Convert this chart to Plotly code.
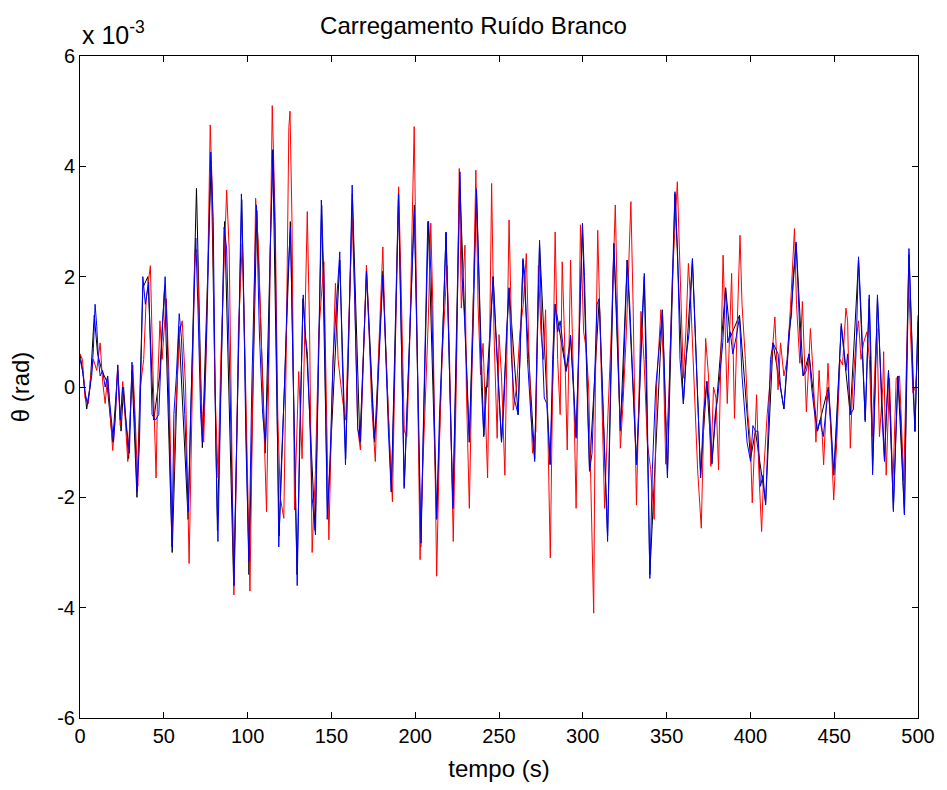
import plotly.graph_objects as go

# values in units of 1e-3 rad
red_t = [0,1.5,3,5,6,8,10,12,13.5,15,16.5,18,19.5,21,22.5,24,25.5,27,28.5,30,31.5,33,34.5,36,38,39.5,
 42,43.5,45.4,46.5,47.7,49,51.5,53,55,57,59.5,61,63,65.1,67,68.5,70,72,73.8,75.5,77.7,79,80.5,82.4,
 84,85.5,87.5,89,90.5,91.8,93,94.5,96.8,98.5,101.4,103,104.8,106.5,108.5,111.3,112.5,114.7,116.5,118,119.5,121.6,123,124.6,
 125.3,126.5,128,129.5,130.5,132.5,134,135.6,137,138.5,140.5,142.5,145.5,147,148.5,150.5,152.4,154,156.5,158.5,160.5,162.4,164,165.7,
 167.3,168.5,170.9,172.5,174,176.2,178,180.7,182,184,186.4,188,190.1,191.5,193.5,195,196.5,199.4,201,202.9,204.5,206,207.8,
 209.3,210.5,212.8,214.5,216,219,220.5,222.7,224.5,226.3,227.5,229.7,230.5,232.3,234,236.2,237.5,239,240.5,243.2,244.5,245.6,247,248.9,
 250,251.5,253.5,255,256,257.5,258.5,260.5,262.5,264.5,266.3,268,270,272,273.5,275,276.5,277.8,279,280.6,282,283.5,285,286.5,287.7,289,290.7,
 292.7,294.5,296,297.5,298.6,300.5,302,303.5,305,306.5,307.5,308.9,310,311.5,313,315,317,319.4,320.5,322.4,324,326,328.7,330,332,
 333,334.7,336.5,338.5,340.5,342.6,344,346.6,348,349.5,351.5,353.5,356.4,358,360,361.5,363,364.5,366.5,368.5,370.7,372,373.3,
 375,376.4,378,379.5,381,382.5,383.7,385,386.2,388.8,390.5,392,393.8,395,397,398.5,400,401.1,402.5,403.7,405,406.7,408,410,412,414.6,
 416.5,418,420,422,424,426.3,427.5,429.5,431,433.4,435.8,437.5,439.1,441,443.7,446.3,448,449.7,451.5,453.5,455,457,
 458,459.6,461,463,464.5,466,467.5,469.5,471,472.6,474.5,475.5,477,479,479.5,481,483,485,487,489,491.5,493,494.3,495.5,497,498.5,500]
red_v = [0.6,0.5,-0.2,-0.3,0.1,0.5,0.3,0.8,0.1,-0.3,0.2,-0.4,-1.15,-0.6,0.4,-0.7,0.1,-0.6,-1.35,-0.5,0.4,-0.6,-1.8,0.0,0.5,1.6,
 2.2,0.3,-1.65,0.2,1.2,0.5,1.6,0.3,-2.6,-0.5,1.0,1.2,0.0,-3.2,0.0,2.4,2.5,0.0,-1.0,0.8,4.75,3.5,0.0,-1.65,
 0.5,2.0,3.57,2.5,-1.0,-3.77,-2.0,1.0,2.6,0.5,-3.7,0.0,3.42,2.5,0.5,-2.26,0.0,5.1,3.0,-0.5,-2.0,-2.38,0.5,4.7,
 5.0,3.0,-2.23,-0.5,0.28,-1.3,1.0,3.18,1.0,-3.0,-1.5,1.0,2.27,0.0,-2.77,0.0,1.88,0.5,-0.2,-0.6,1.5,3.06,1.5,-0.75,
 -1.14,0.0,2.21,1.0,-0.3,-1.35,0.5,2.54,1.0,-0.5,-2.08,0.5,3.63,2.0,-0.8,-0.9,0.5,4.72,1.0,-3.13,-1.5,-0.2,1.2,
 2.97,1.5,-3.43,-1.0,0.5,2.2,0.5,-2.8,0.0,3.96,1.43,2.57,0.0,-2.2,0.5,3.93,1.5,0.22,0.79,-1.65,1.0,3.69,1.0,-0.93,
 0.95,0.2,-1.6,1.5,3.03,1.0,-0.42,0.0,1.0,1.5,2.42,0.5,-1.2,-0.8,2.2,1.0,0.5,1.4,-0.5,-3.1,0.0,2.81,0.5,-0.5,2.27,1.0,-1.14,
 2.3,0.0,-2.2,0.5,2.94,1.0,0.7,0.0,-2.0,-4.1,0.0,2.84,1.5,-0.6,-2.2,-0.5,1.0,3.3,1.5,-1.11,-0.3,1.0,3.36,1.5,-2.14,
 -1.0,1.37,0.5,-1.0,-1.5,-2.4,0.0,1.4,0.5,-1.4,0.0,2.0,3.72,2.0,0.16,1.0,2.24,1.5,0.0,-1.5,-2.56,-0.5,0.88,
 0.2,-1.44,0.0,-0.2,-1.5,0.5,2.39,1.0,-0.3,2.06,-0.57,1.0,2.75,1.5,0.5,-0.5,-1.0,-2.1,-1.0,-0.14,-1.5,-2.62,-1.5,-0.5,0.2,1.27,
 -0.05,0.8,0.2,0.5,1.5,2.87,1.5,0.43,1.55,-0.45,1.06,0.2,-1.0,0.3,-1.41,0.43,-0.8,-2.05,-1.0,0.5,0.4,1.43,
 1.2,-1.11,0.0,0.8,1.2,0.5,0.8,1.0,0.5,-0.9,0.5,1.06,-0.9,0.0,0.64,-1.6,0.16,-1.8,0.16,0.2,-1.7,0.5,2.03,1.0,-0.1,0.0,0.7]

blue_t = [0,1.5,3,4.5,5.5,7,8,9,10,11,12,13.5,15,16.5,17.5,19,20,21.5,22.5,24,25.5,27,29.5,31,32.5,34,35.5,37.5,39,
 41,43,45,47,49,50.8,52,53.5,54.9,56,57.5,59.2,60.5,62.5,64.6,66,67.5,69.1,70.5,72,73,74.5,76,78,79.5,81,82.3,
 84,86,87.5,89.5,91.9,93.5,95,96.3,97.5,99,100.8,102.5,104.5,105.3,107,109,110.7,112.5,113.5,115.2,116.5,118.6,120,122,124,
 125.6,127,129.6,131,133.2,134.5,135.6,137,138.5,140.5,142,144,145.5,147.5,149,151,153,155,156.5,158.4,160,162.4,164,165.7,
 167.3,168.5,170.9,172.5,174,175.5,177,178.5,180.7,182,184,185.7,187.5,190.1,191.5,193.4,195,197,199.5,201,203.5,205,207.5,
 208,209.5,211,212.8,214.5,216.5,218.4,219.5,221,222.5,224.5,226.7,228,229.5,231,232.3,234.5,236.6,238,239.5,240.9,242,243.2,245,246.5,248,249.5,
 251.5,253,254.5,256,257.5,259,261.4,263,264.3,265.5,267,269,271.3,272.5,274.2,275.5,277,278.5,280.5,282,283.5,285,286.5,288,290,
 291.5,292.7,294.5,296,297.5,299.8,301,302.5,304,305.5,307,308.5,309.8,311.5,313,314.8,316.5,318.5,320,322.4,324,325.5,326.5,328,330,332,
 333.5,335,336.7,338,340,341.5,343.5,345,347.5,349,350.5,352,353.5,355,356.5,358,360,361.5,363.5,365.4,366.5,368.5,370.3,372,374,
 375.5,377,379,380.5,382,383.5,385.2,386.5,388,389.5,391.5,393.5,395,396.5,398,400.1,401.5,403,404.5,406,407.5,409.1,410.5,412,413.5,415,
 416.5,418,420,421.5,423,424.5,425.5,427.3,428.5,430,431.5,433.5,435,436.5,438,440,441.5,443.5,444.5,446.5,448,449.7,451,452.5,454.2,455.5,457,
 458,459.6,461.5,463,464.5,466,468.5,469.5,470.9,472,472.9,474.5,475.8,477,478.5,480,481,482.4,483.5,485.3,486.5,488,489.5,491.9,493,494.6,496,497,498.2,499.3,500]
blue_v = [0.5,0.3,-0.1,-0.3,-0.1,0.2,0.7,1.5,1.1,0.5,0.2,0.3,0.0,0.2,-0.2,-0.75,-1.0,-0.3,0.4,-0.6,0.0,-0.5,-1.2,0.45,-0.5,-1.9,-1.0,2.0,1.5,
 1.9,-0.5,-0.6,-0.5,1.0,2.0,1.0,-1.0,-2.9,-0.5,0.2,1.33,0.9,-0.5,-2.26,-0.5,1.0,2.7,1.3,-0.5,-1.0,0.0,1.5,4.26,3.0,-1.0,-2.8,
 0.0,2.9,2.5,0.0,-3.6,-1.0,1.5,3.5,2.0,-1.0,-3.16,0.0,2.5,3.3,1.0,-0.5,-1.05,0.5,2.5,4.3,2.5,-2.9,-1.5,0.0,2.0,
 2.9,0.5,-3.6,-1.0,1.67,0.9,0.64,-0.5,-2.0,-2.68,0.0,3.39,2.0,-2.4,-1.5,0.5,1.5,2.45,0.5,-1.41,0.5,3.66,1.5,-0.75,
 -1.0,0.0,2.1,1.0,0.0,-0.93,-0.5,0.5,2.03,1.0,-0.8,-1.9,0.0,3.5,1.0,-1.84,-0.5,1.0,3.21,1.0,-2.83,-0.5,3.0,
 3.0,2.0,0.0,-2.38,-0.5,1.0,2.81,1.5,0.0,-2.2,0.5,3.9,2.0,1.2,0.0,-1.0,1.0,3.57,2.0,0.0,-0.87,0.0,0.0,1.0,2.0,1.0,0.1,
 -1.0,-0.3,1.0,1.79,0.5,-0.2,-0.5,1.0,2.33,2.0,0.5,-0.5,-1.35,0.5,2.66,1.0,-0.2,-0.3,-1.41,0.5,1.5,1.0,1.2,0.8,0.28,
 0.5,0.94,0.0,-0.93,0.5,2.97,2.0,0.0,-1.53,-1.2,0.0,1.5,1.6,0.0,-1.5,-2.8,0.0,2.6,1.5,-0.75,0.0,1.5,2.3,1.5,0.0,-1.41,
 -0.5,1.0,2.06,0.5,-3.47,-1.5,0.0,0.5,1.37,0.0,-1.65,0.5,2.2,3.54,2.5,0.5,-0.3,0.5,1.0,2.33,1.5,0.0,-1.65,-0.5,0.1,
 -0.3,-1.38,-0.5,-0.2,0.3,0.8,1.79,0.8,1.0,0.6,0.9,1.27,0.2,-0.4,-1.0,-1.35,-0.7,-0.8,-0.8,-1.8,-1.6,-2.14,-1.0,0.5,0.8,0.7,
 0.6,0.0,-0.39,0.3,1.0,1.3,2.0,2.63,1.8,0.6,0.2,0.3,0.6,0.0,-0.4,-0.8,-0.6,-0.9,-0.6,-0.05,-0.6,-1.59,-1.0,0.0,1.15,0.8,0.3,
 0.6,-0.5,-0.4,0.6,2.36,1.4,-0.63,0.5,1.67,0.5,-1.59,0.0,1.67,0.8,-0.5,-1.35,-0.5,0.28,-0.5,-2.26,-1.3,0.2,-0.5,-2.32,0.0,2.51,1.2,0.0,-0.81,0.5,1.3]

black_t = [0,2,4,6,8.5,10.5,13,16,19.5,22.5,24.5,26,29,31,34,37.5,40.5,44,47.5,50.5,55,59,64.5,69.5,73,78.3,82,86.3,91.7,96.5,
 100.8,105.5,110.5,115,118.8,125.5,129.5,133,135.5,140.3,144.2,147.7,155,158.5,162.5,167,171,175.8,180.7,185.8,190,193.5,199.5,203.3,207.8,
 212.8,218.4,222.5,226.5,229.5,232.3,236.5,240.9,246.5,251.5,256,261.4,264.3,271.3,274.2,280.5,283.5,290,292.7,296,299.8,304,309.8,314.8,
 318.5,322.4,326.5,332,336.7,340,347.5,350.5,355,360,365.4,370.3,374,377,385.2,388,393.5,400.1,403,409.1,413.5,420,427.3,431.5,435,440,
 446.5,449.7,454.2,459.6,464.5,468.5,470.9,472.9,475.8,480,482.4,485.3,488,491.9,494.6,498.2,500]
black_v = [0.6,0.2,-0.4,0.0,1.3,0.6,0.3,0.1,-1.0,0.3,-0.8,0.0,-1.3,0.3,-2.0,1.8,2.0,-0.6,0.2,1.8,-3.0,1.1,-2.4,3.6,-1.1,4.1,-2.6,3.0,-3.6,3.4,
 -3.4,3.2,-1.2,4.3,-2.7,3.0,-3.4,1.6,0.5,-2.6,3.3,-2.3,2.3,-1.3,3.5,-1.0,2.1,-1.0,2.1,-1.9,3.5,-1.8,3.3,-2.9,3.0,
 -2.4,2.8,-2.2,3.8,1.2,-1.0,3.6,-0.9,2.0,-1.0,1.8,-0.5,2.3,-1.3,2.6,-1.4,1.5,0.3,0.9,-0.9,2.9,-1.5,1.6,-2.7,
 2.6,-0.8,2.3,-1.4,2.0,-3.4,1.4,-1.6,3.5,-0.3,2.3,-1.6,0.1,-1.4,1.8,0.9,1.3,-1.3,-0.8,-2.1,0.8,-0.4,2.6,0.2,0.6,-0.8,
 0.0,-1.6,1.1,-0.5,2.3,-0.6,1.6,-1.5,1.6,-1.3,0.3,-2.2,0.2,-2.3,2.4,-0.8,1.2]

x_ticks = [0, 50, 100, 150, 200, 250, 300, 350, 400, 450, 500]
y_ticks = [-6, -4, -2, 0, 2, 4, 6]

fig = go.Figure()
fig.add_trace(go.Scatter(x=black_t, y=black_v, mode="lines", line=dict(color="black", width=1), showlegend=False))
fig.add_trace(go.Scatter(x=red_t, y=red_v, mode="lines", line=dict(color="#ff0000", width=1), showlegend=False))
fig.add_trace(go.Scatter(x=blue_t, y=blue_v, mode="lines", line=dict(color="#0000ff", width=1), showlegend=False))

font_family = "Liberation Sans, Arial, sans-serif"
axis_common = dict(showgrid=False, zeroline=False, showline=True, linecolor="black", linewidth=1,
                   mirror="ticks", ticks="inside", ticklen=6, tickcolor="black", tickwidth=1,
                   tickfont=dict(family=font_family, size=20, color="black"))
fig.update_xaxes(range=[0, 500], tickvals=x_ticks, ticktext=[str(v) for v in x_ticks],
                 title=dict(text="tempo (s)", font=dict(family=font_family, size=24, color="black"), standoff=14),
                 **axis_common)
fig.update_yaxes(range=[-6, 6], tickvals=y_ticks, ticktext=[str(v) for v in y_ticks],
                 title=dict(text="θ (rad)", font=dict(family=font_family, size=24, color="black"), standoff=20),
                 **axis_common)
fig.update_layout(
    width=947, height=790,
    margin=dict(l=80, r=26, t=56, b=72),
    paper_bgcolor="white", plot_bgcolor="white",
    title=dict(text="Carregamento Ruído Branco", x=0.5, xanchor="center", y=0.967, yanchor="middle",
               font=dict(family=font_family, size=24, color="black")),
    annotations=[dict(text="x 10<sup>-3</sup>", xref="paper", yref="paper", x=0.0, y=1.0,
                      xanchor="left", yanchor="bottom", yshift=5, showarrow=False,
                      font=dict(family=font_family, size=25, color="black"))],
)
fig.write_html("out.html")
